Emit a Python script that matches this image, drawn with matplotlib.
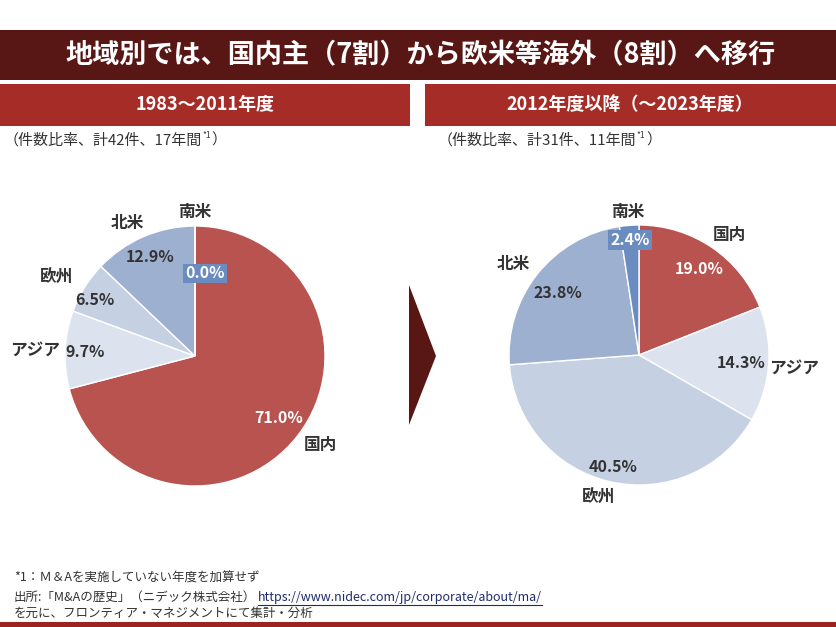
import matplotlib
matplotlib.use("Agg")
import matplotlib.pyplot as plt
from matplotlib.patches import Rectangle, Polygon
import numpy as np

plt.rcParams['font.family'] = ['Noto Sans CJK JP', 'DejaVu Sans']

# ── Data ──────────────────────────────────────────────────────────────────────
regions = ["国内", "アジア", "欧州", "北米", "南米"]
share_before = [71.0, 9.7, 6.5, 12.9, 0.0]   # 1983～2011年度
share_after = [19.0, 14.3, 40.5, 23.8, 2.4]   # 2012年度以降
title = "地域別では、国内主（7割）から欧米等海外（8割）へ移行"
panel_titles = ["1983～2011年度", "2012年度以降（～2023年度）"]
panel_notes = ["（件数比率、計42件、17年間", "（件数比率、計31件、11年間"]
footnotes = ["*1：Ｍ＆Aを実施していない年度を加算せず",
             "出所:「M&Aの歴史」（ニデック株式会社）",
             "を元に、フロンティア・マネジメントにて集計・分析"]
source_url = "https://www.nidec.com/jp/corporate/about/ma/"

# ── Palette ───────────────────────────────────────────────────────────────────
MAROON = "#581715"
RED = "#a62c28"
RED2 = "#9c2320"
TEXT = "#333333"
colors = ["#b9534f", "#dde3ee", "#c5d0e3", "#9db0cf", "#6b8cc0"]

W, H = 836, 627
R = 130      # pie radius in px
HALF = 200   # half size of pie axes in px

fig = plt.figure(figsize=(W / 100, H / 100), dpi=100)
fig.patch.set_facecolor("white")
bg = fig.add_axes([0, 0, 1, 1])
bg.set_xlim(0, W)
bg.set_ylim(H, 0)
bg.axis("off")

# bars + chevron
bg.add_patch(Rectangle((0, 30), W, 50, color=MAROON, lw=0))
bg.add_patch(Rectangle((0, 84), 410, 42, color=RED, lw=0))
bg.add_patch(Rectangle((425, 84), W - 425, 42, color=RED, lw=0))
bg.add_patch(Rectangle((0, 622), W, 5, color=RED2, lw=0))
bg.add_patch(Polygon([(409, 285), (436, 356), (409, 425)], closed=True,
                     color=MAROON, lw=0))

bg.text(420, 55, title, color="white", fontsize=19.5, fontweight="bold",
        ha="center", va="center")
bg.text(205, 105, panel_titles[0], color="white", fontsize=13,
        fontweight="bold", ha="center", va="center")
bg.text(630, 105, panel_titles[1], color="white", fontsize=13,
        fontweight="bold", ha="center", va="center")

fig.canvas.draw()
renderer = fig.canvas.get_renderer()


def right_edge(t):
    bb = t.get_window_extent(renderer)
    return bg.transData.inverted().transform((bb.x1, bb.y0))[0]


def note(x, y, txt):
    t = bg.text(x, y, txt, color=TEXT, fontsize=10.8, ha="left", va="center")
    x1 = right_edge(t)
    s = bg.text(x1, y - 5, "*1", color=TEXT, fontsize=6, ha="left", va="center")
    x2 = right_edge(s)
    bg.text(x2 + 1, y, "）", color=TEXT, fontsize=10.8, ha="left", va="center")


note(4, 140, panel_notes[0])
note(438, 140, panel_notes[1])

# footnotes
FS = 9
bg.text(14, 578, footnotes[0], color=TEXT, fontsize=FS, ha="left", va="center")
src = bg.text(14, 597, footnotes[1], color=TEXT, fontsize=FS, ha="left", va="center")
ux = right_edge(src) + 2
url = bg.text(ux, 597, source_url, color="#1f2a6b", fontsize=FS, ha="left", va="center")
ux1 = right_edge(url)
bg.plot([ux, ux1], [604.5, 604.5], color="#1f2a6b", lw=0.8)
bg.text(14, 613, footnotes[2], color=TEXT, fontsize=FS, ha="left", va="center")


# ── Pies ──────────────────────────────────────────────────────────────────────
def draw_pie(cx, cy, values, pct_pos, name_pos):
    ax = fig.add_axes([(cx - HALF) / W, (H - cy - HALF) / H, 2 * HALF / W, 2 * HALF / H])
    wedges, _ = ax.pie(values, colors=colors, startangle=90, counterclock=False,
                       wedgeprops=dict(edgecolor="white", linewidth=1.0))
    ax.set_xlim(-HALF / R, HALF / R)
    ax.set_ylim(-HALF / R, HALF / R)
    ax.axis("off")
    for i, (w, v, name) in enumerate(zip(wedges, values, regions)):
        mid = (w.theta1 + w.theta2) / 2
        pr, pd = pct_pos[i]
        nr, nd = name_pos[i]
        a = np.deg2rad(mid + pd)
        kw = dict(fontsize=11.5, fontweight="bold", ha="center", va="center",
                  color=TEXT)
        if i == 0:
            kw["color"] = "white"
        if i == 4:
            kw["color"] = "white"
            kw["bbox"] = dict(boxstyle="square,pad=0.12", fc=colors[4], ec="none")
        ax.text(pr * np.cos(a), pr * np.sin(a), f"{v:.1f}%", **kw)
        a = np.deg2rad(mid + nd)
        ax.text(nr * np.cos(a), nr * np.sin(a), name, fontsize=12,
                fontweight="bold", ha="center", va="center", color=TEXT)


draw_pie(195, 356, share_before,
         [(0.80, 1.0), (0.85, 0.6), (0.88, 2.7), (0.84, 1.2), (0.64, -7.0)],
         [(1.18, 2.3), (1.23, 0.6), (1.22, 2.4), (1.15, 3.7), (1.11, 0.0)])
draw_pie(639, 355, share_after,
         [(0.81, -0.7), (0.79, -0.4), (0.885, -0.3), (0.785, 1.1), (0.885, 0.2)],
         [(1.16, -2.8), (1.20, -0.7), (1.145, -3.2), (1.19, 2.7), (1.10, 0.1)])

plt.savefig("out.png", dpi=100, facecolor="white")
